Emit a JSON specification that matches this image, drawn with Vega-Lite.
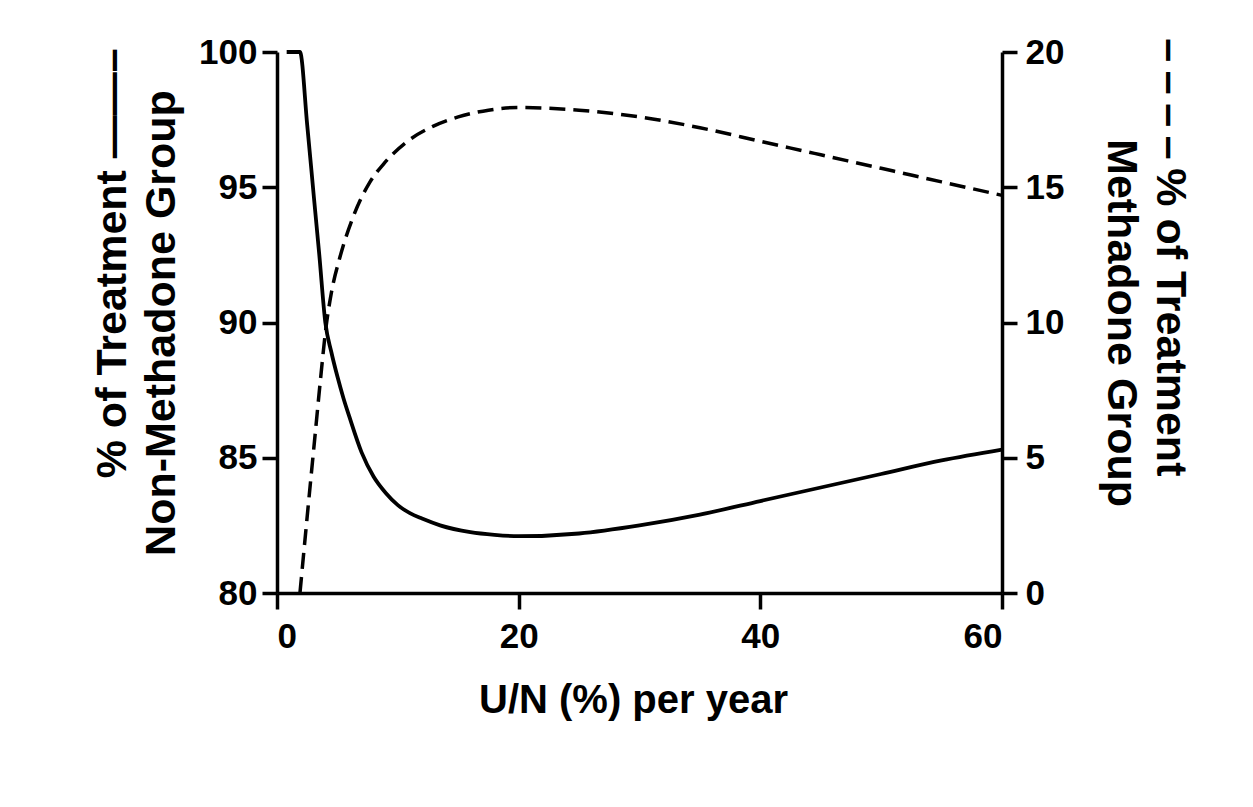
{
  "$schema": "https://vega.github.io/schema/vega-lite/v6.json",
  "width": 725,
  "height": 541,
  "autosize": {"type": "none"},
  "padding": {"left": 277, "top": 52, "right": 251, "bottom": 214},
  "background": "white",
  "config": {
    "view": {"stroke": null},
    "axis": {
      "grid": false,
      "domainColor": "black",
      "domainWidth": 3.5,
      "tickColor": "black",
      "tickWidth": 3.5,
      "tickSize": 15,
      "labelFont": "Liberation Sans",
      "labelFontWeight": "bold",
      "labelFontSize": 35,
      "labelColor": "black",
      "titleFont": "Liberation Sans",
      "titleFontWeight": "bold",
      "titleColor": "black"
    }
  },
  "datasets": {
    "nonmeth": [
      {"x": 0.8, "pct": 100},
      {"x": 1.9, "pct": 100},
      {"x": 2.5, "pct": 97.3},
      {"x": 3.06, "pct": 94.6},
      {"x": 3.5, "pct": 92.5},
      {"x": 4.0, "pct": 90.0},
      {"x": 4.5, "pct": 88.9},
      {"x": 5.0, "pct": 88.0},
      {"x": 5.5, "pct": 87.2},
      {"x": 6.0, "pct": 86.5},
      {"x": 7.0, "pct": 85.2},
      {"x": 8.0, "pct": 84.3},
      {"x": 9.0, "pct": 83.7},
      {"x": 10.0, "pct": 83.25},
      {"x": 11.0, "pct": 82.95},
      {"x": 12.0, "pct": 82.75},
      {"x": 13.5, "pct": 82.5},
      {"x": 16.0, "pct": 82.25},
      {"x": 18.0, "pct": 82.15},
      {"x": 20.0, "pct": 82.1},
      {"x": 25.0, "pct": 82.2},
      {"x": 30.0, "pct": 82.5},
      {"x": 35.0, "pct": 82.9},
      {"x": 40.0, "pct": 83.4},
      {"x": 45.0, "pct": 83.9},
      {"x": 50.0, "pct": 84.4},
      {"x": 55.0, "pct": 84.9},
      {"x": 60.0, "pct": 85.3}
    ],
    "meth": [
      {"x": 1.9, "pct": 0},
      {"x": 2.6, "pct": 3.3},
      {"x": 3.1, "pct": 5.6},
      {"x": 3.6, "pct": 7.9},
      {"x": 4.05, "pct": 9.8},
      {"x": 4.5, "pct": 11.1},
      {"x": 5.2, "pct": 12.4},
      {"x": 6.3, "pct": 13.9},
      {"x": 7.7, "pct": 15.2},
      {"x": 8.8, "pct": 15.85},
      {"x": 10.8, "pct": 16.7},
      {"x": 12.9, "pct": 17.25},
      {"x": 15.0, "pct": 17.6},
      {"x": 17.5, "pct": 17.85},
      {"x": 20.0, "pct": 17.95},
      {"x": 25.0, "pct": 17.85},
      {"x": 30.0, "pct": 17.6},
      {"x": 35.0, "pct": 17.2},
      {"x": 40.0, "pct": 16.7},
      {"x": 45.0, "pct": 16.2},
      {"x": 50.0, "pct": 15.7},
      {"x": 55.0, "pct": 15.2},
      {"x": 60.0, "pct": 14.7}
    ]
  },
  "layer": [
    {
      "data": {"name": "nonmeth"},
      "mark": {"type": "line", "color": "black", "strokeWidth": 3.8, "interpolate": "monotone", "clip": false},
      "encoding": {
        "x": {
          "field": "x",
          "type": "quantitative",
          "scale": {"domain": [0, 60], "nice": false},
          "axis": {
            "values": [0, 20, 40, 60],
            "tickSize": 16,
            "labelPadding": 10,
            "title": "U/N (%) per year",
            "titleFontSize": 40,
            "titleX": 356,
            "titleY": 119,
            "titleAlign": "center",
            "titleBaseline": "alphabetic"
          }
        },
        "y": {
          "field": "pct",
          "type": "quantitative",
          "scale": {"domain": [80, 100], "nice": false, "zero": false},
          "axis": {
            "orient": "left",
            "values": [80, 85, 90, 95, 100],
            "labelPadding": 5,
            "title": ["\u200b\u00a0\u00a0\u00a0\u00a0\u00a0\u00a0\u00a0\u00a0\u00a0\u00a0% of Treatment \u2014\u2014\u2013", "Non-Methadone Group"],
            "titleFontSize": 43,
            "titleLineHeight": 49,
            "titleAngle": -90,
            "titleAlign": "center",
            "titleBaseline": "middle",
            "titleX": -164.5,
            "titleY": 270.5
          }
        }
      }
    },
    {
      "data": {"name": "meth"},
      "mark": {"type": "line", "color": "black", "strokeWidth": 3.5, "strokeDash": [16, 8], "interpolate": "monotone", "clip": false},
      "encoding": {
        "x": {"field": "x", "type": "quantitative"},
        "y": {
          "field": "pct",
          "type": "quantitative",
          "scale": {"domain": [0, 20], "nice": false},
          "axis": {
            "orient": "right",
            "values": [0, 5, 10, 15, 20],
            "labelPadding": 8,
            "title": ["\u2013\u2009\u2013\u2009\u2013\u2009\u2013\u2009% of Treatment\u00a0\u00a0\u00a0\u00a0\u00a0\u00a0\u00a0\u00a0\u00a0\u00a0\u00a0\u200b", "Methadone Group"],
            "titleFontSize": 43,
            "titleLineHeight": 49,
            "titleAngle": 90,
            "titleAlign": "center",
            "titleBaseline": "middle",
            "titleX": 167.5,
            "titleY": 270.5
          }
        }
      }
    }
  ],
  "resolve": {"scale": {"y": "independent"}}
}
